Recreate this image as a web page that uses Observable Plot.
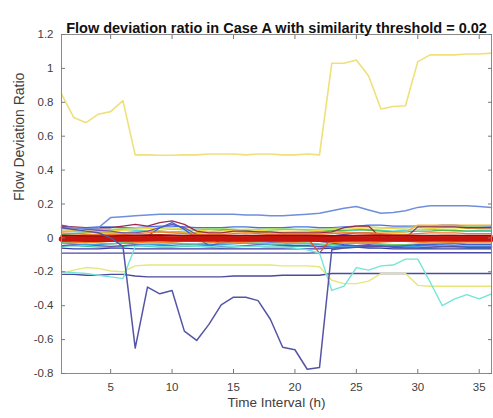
<!DOCTYPE html>
<html>
<head>
<meta charset="utf-8">
<script src="https://cdn.jsdelivr.net/npm/d3@7"></script>
<script src="https://cdn.jsdelivr.net/npm/@observablehq/plot@0.6"></script>
<style>
  html, body { margin: 0; padding: 0; background: #fff; }
  #chart svg { display: block; }
</style>
</head>
<body>
<div id="chart"></div>
<script>
const title = "Flow deviation ratio in Case A with similarity threshold = 0.02";
const xLabel = "Time Interval (h)";
const yLabel = "Flow Deviation Ratio";
const hours = [1,2,3,4,5,6,7,8,9,10,11,12,13,14,15,16,17,18,19,20,21,22,23,24,25,26,27,28,29,30,31,32,33,34,35,36];
const xTicks = [5,10,15,20,25,30,35];
const yTicks = [-0.8,-0.6,-0.4,-0.2,0,0.2,0.4,0.6,0.8,1,1.2];

// bundle series (near zero)
const bOrange1 = [0.03,0.025,0.02,0.02,0.02,0.02,0.025,0.03,0.035,0.03,0.025,0.02,0.02,0.02,0.025,0.03,0.025,0.02,0.02,0.02,0.02,0.02,0.025,0.03,0.03,0.03,0.025,0.02,0.02,0.025,0.03,0.03,0.03,0.025,0.025,0.025];
const bYellow1 = [0.05,0.045,0.04,0.04,0.04,0.045,0.05,0.055,0.06,0.06,0.055,0.045,0.04,0.04,0.045,0.05,0.045,0.04,0.04,0.04,0.04,0.045,0.05,0.05,0.055,0.06,0.06,0.055,0.05,0.05,0.055,0.06,0.06,0.055,0.055,0.05];
const bGreen = [0.02,0.025,0.03,0.035,0.03,0.03,0.035,0.04,0.04,0.035,0.03,0.03,0.035,0.045,0.05,0.045,0.035,0.03,0.03,0.035,0.035,0.04,0.045,0.045,0.05,0.045,0.04,0.035,0.035,0.04,0.04,0.045,0.045,0.04,0.04,0.04];
const bCyan = [0.04,0.035,0.035,0.04,0.045,0.05,0.045,0.04,0.035,0.035,0.04,0.045,0.05,0.05,0.045,0.04,0.04,0.045,0.05,0.05,0.045,0.04,0.035,0.04,0.045,0.05,0.045,0.04,0.045,0.05,0.05,0.045,0.04,0.04,0.045,0.045];
const bLightGreen = [0.06,0.055,0.05,0.05,0.05,0.055,0.06,0.06,0.055,0.05,0.05,0.05,0.055,0.055,0.05,0.05,0.05,0.055,0.055,0.05,0.05,0.05,0.055,0.06,0.065,0.065,0.06,0.06,0.06,0.065,0.07,0.07,0.065,0.065,0.065,0.06];
const bBlue2 = [0.065,0.06,0.06,0.065,0.065,0.06,0.06,0.065,0.07,0.07,0.065,0.06,0.06,0.06,0.065,0.065,0.06,0.06,0.06,0.065,0.065,0.06,0.06,0.065,0.07,0.075,0.075,0.07,0.07,0.07,0.07,0.075,0.075,0.07,0.07,0.07];
const bAmber = [0.04,0.04,0.035,0.03,0.03,0.03,0.035,0.04,0.04,0.035,0.03,0.03,0.03,0.03,0.035,0.035,0.03,0.03,0.03,0.03,0.03,0.03,0.03,0.03,0.03,0.03,0.03,0.03,0.035,0.075,0.075,0.075,0.075,0.075,0.075,0.075];
const bMaroon = [0.07,0.065,0.06,0.06,0.06,0.07,0.08,0.07,0.09,0.1,0.08,0.04,0.03,0.03,0.04,0.04,0.035,0.035,0.03,0.03,0.03,0.03,0.035,0.06,0.07,0.07,0.0,0.0,0.0,0.065,0.065,0.065,0.065,0.06,0.06,0.06];
const bPurple = [0.075,0.06,0.05,0.045,0.04,0.03,0.03,0.04,0.06,0.08,0.06,0.02,0.0,-0.03,-0.02,0.0,0.01,0.01,0.01,0.01,0.01,0.01,0.01,0.02,0.03,0.03,0.02,0.0,-0.01,-0.01,0.0,0.0,0.0,0.0,0.0,0.0];
const bBlue = [0.0,-0.005,-0.01,-0.01,-0.015,-0.01,0.0,0.01,0.06,0.09,0.05,0.0,-0.045,-0.03,-0.02,-0.02,-0.02,-0.025,-0.025,-0.02,-0.02,-0.02,-0.03,-0.04,-0.045,-0.045,-0.05,-0.05,-0.045,-0.04,-0.04,-0.035,-0.035,-0.04,-0.04,-0.04];
const bSky = [-0.03,-0.035,-0.04,-0.04,-0.035,-0.03,-0.035,-0.04,-0.04,-0.035,-0.035,-0.04,-0.04,-0.04,-0.035,-0.03,-0.035,-0.04,-0.04,-0.035,-0.035,-0.04,-0.05,-0.055,-0.05,-0.045,-0.04,-0.045,-0.05,-0.05,-0.045,-0.04,-0.045,-0.05,-0.05,-0.05];
const bGreen2 = [-0.03,-0.028,-0.025,-0.03,-0.035,-0.03,-0.025,-0.02,-0.025,-0.03,-0.035,-0.035,-0.03,-0.025,-0.025,-0.03,-0.03,-0.035,-0.035,-0.03,-0.03,-0.035,-0.04,-0.035,-0.03,-0.03,-0.035,-0.04,-0.04,-0.035,-0.035,-0.03,-0.03,-0.035,-0.035,-0.035];
const bPurple2 = [-0.045,-0.04,-0.04,-0.045,-0.05,-0.045,-0.04,-0.04,-0.045,-0.045,-0.04,-0.04,-0.045,-0.05,-0.05,-0.045,-0.04,-0.04,-0.045,-0.045,-0.045,-0.05,-0.05,-0.045,-0.045,-0.04,-0.045,-0.05,-0.05,-0.045,-0.045,-0.05,-0.05,-0.05,-0.05,-0.05];
const bTeal = [-0.05,-0.045,-0.05,-0.055,-0.055,-0.05,-0.045,-0.05,-0.055,-0.055,-0.05,-0.05,-0.055,-0.06,-0.055,-0.05,-0.05,-0.055,-0.055,-0.05,-0.05,-0.055,-0.06,-0.06,-0.055,-0.055,-0.05,-0.05,-0.055,-0.06,-0.06,-0.055,-0.055,-0.06,-0.06,-0.06];
const bYellow2 = [-0.012,-0.015,-0.018,-0.015,-0.012,-0.01,-0.012,-0.015,-0.018,-0.018,-0.015,-0.012,-0.012,-0.015,-0.018,-0.018,-0.015,-0.012,-0.012,-0.015,-0.015,-0.018,-0.02,-0.02,-0.018,-0.015,-0.015,-0.018,-0.02,-0.02,-0.018,-0.015,-0.015,-0.018,-0.018,-0.018];
const bOrange2 = [-0.02,-0.025,-0.03,-0.025,-0.02,-0.02,-0.025,-0.03,-0.03,-0.025,-0.02,-0.02,-0.025,-0.03,-0.03,-0.025,-0.02,-0.02,-0.025,-0.025,-0.02,-0.02,-0.025,-0.03,-0.03,-0.03,-0.025,-0.02,-0.02,-0.025,-0.03,-0.03,-0.025,-0.025,-0.025,-0.025];
const bNavy2 = [-0.06,-0.065,-0.065,-0.065,-0.06,-0.06,-0.065,-0.065,-0.065,-0.065,-0.065,-0.065,-0.065,-0.065,-0.065,-0.065,-0.065,-0.065,-0.065,-0.065,-0.065,-0.065,-0.06,-0.055,-0.055,-0.06,-0.06,-0.065,-0.065,-0.065,-0.065,-0.065,-0.065,-0.065,-0.065,-0.065];
const bRedV = [0.01,0.012,0.015,0.012,0.01,0.008,0.01,0.015,0.018,0.015,0.012,0.01,0.008,0.01,0.012,0.015,0.012,0.01,0.008,0.005,0.0,-0.09,0.0,0.01,0.015,0.018,0.02,0.015,0.012,0.01,0.012,0.015,0.015,0.012,0.012,0.012];
const bDarkRed = [0.012,0.012,0.01,0.01,0.01,0.012,0.014,0.015,0.015,0.014,0.012,0.012,0.012,0.013,0.013,0.013,0.012,0.012,0.012,0.012,0.012,0.011,0.011,0.012,0.013,0.013,0.013,0.012,0.012,0.012,0.012,0.013,0.013,0.013,0.013,0.013];
const bRedThick = [-0.006,-0.007,-0.008,-0.008,-0.008,-0.007,-0.006,-0.005,-0.005,-0.006,-0.007,-0.007,-0.007,-0.006,-0.006,-0.006,-0.007,-0.007,-0.007,-0.007,-0.007,-0.008,-0.008,-0.007,-0.006,-0.006,-0.006,-0.007,-0.007,-0.007,-0.007,-0.006,-0.006,-0.006,-0.006,-0.006];

// outlier series
const yellowTop = [0.85,0.71,0.68,0.73,0.745,0.81,0.49,0.49,0.488,0.488,0.49,0.49,0.495,0.495,0.495,0.49,0.495,0.495,0.49,0.49,0.495,0.49,1.03,1.03,1.05,0.955,0.76,0.775,0.78,1.04,1.08,1.08,1.08,1.085,1.085,1.09];
const blueUpper = [0.06,0.06,0.055,0.06,0.12,0.125,0.13,0.135,0.14,0.14,0.14,0.14,0.14,0.14,0.14,0.135,0.135,0.13,0.13,0.135,0.14,0.145,0.16,0.175,0.185,0.165,0.145,0.15,0.16,0.18,0.19,0.19,0.19,0.19,0.185,0.18];
const navyMid = [-0.09,-0.09,-0.09,-0.09,-0.09,-0.09,-0.09,-0.09,-0.09,-0.09,-0.09,-0.09,-0.09,-0.09,-0.09,-0.09,-0.09,-0.09,-0.09,-0.09,-0.09,-0.088,-0.088,-0.088,-0.088,-0.088,-0.088,-0.088,-0.088,-0.088,-0.088,-0.088,-0.088,-0.088,-0.088,-0.088];
const navyLow = [-0.215,-0.215,-0.22,-0.22,-0.215,-0.215,-0.225,-0.23,-0.23,-0.23,-0.23,-0.23,-0.23,-0.23,-0.225,-0.225,-0.225,-0.225,-0.22,-0.22,-0.22,-0.22,-0.21,-0.21,-0.21,-0.21,-0.21,-0.21,-0.21,-0.21,-0.21,-0.21,-0.21,-0.21,-0.21,-0.21];
const yellowLow = [-0.21,-0.19,-0.175,-0.18,-0.195,-0.2,-0.165,-0.16,-0.16,-0.16,-0.16,-0.16,-0.16,-0.16,-0.16,-0.16,-0.16,-0.16,-0.165,-0.165,-0.165,-0.17,-0.25,-0.27,-0.27,-0.255,-0.21,-0.21,-0.21,-0.28,-0.285,-0.285,-0.285,-0.285,-0.285,-0.285];
const cyanLow = [-0.2,-0.205,-0.21,-0.22,-0.23,-0.24,-0.05,-0.045,-0.05,-0.05,-0.045,-0.05,-0.05,-0.055,-0.05,-0.05,-0.05,-0.055,-0.055,-0.06,-0.07,-0.09,-0.31,-0.285,-0.175,-0.19,-0.165,-0.16,-0.125,-0.125,-0.26,-0.4,-0.36,-0.335,-0.36,-0.33];
const dipLine = [0.06,0.05,0.04,0.03,0.0,-0.05,-0.65,-0.29,-0.33,-0.31,-0.55,-0.605,-0.51,-0.395,-0.35,-0.35,-0.37,-0.48,-0.645,-0.66,-0.775,-0.765,-0.07,-0.06,-0.055,-0.05,-0.05,-0.055,-0.06,-0.06,-0.055,-0.05,-0.05,-0.055,-0.055,-0.055];

const seriesList = [
  {name: "bTeal", values: bTeal, color: "#3fc4a6", w: 1.3},
  {name: "bNavy2", values: bNavy2, color: "#3a3aa8", w: 1.3},
  {name: "bPurple2", values: bPurple2, color: "#6a4aa8", w: 1.3},
  {name: "bSky", values: bSky, color: "#3f9fe6", w: 1.3},
  {name: "bGreen2", values: bGreen2, color: "#6cc86c", w: 1.3},
  {name: "bBlue2", values: bBlue2, color: "#4a70e0", w: 1.3},
  {name: "bLightGreen", values: bLightGreen, color: "#a6dc6a", w: 1.3},
  {name: "bCyan", values: bCyan, color: "#55d6e2", w: 1.3},
  {name: "bGreen", values: bGreen, color: "#4fb84f", w: 1.3},
  {name: "bYellow1", values: bYellow1, color: "#f0dc3c", w: 1.3},
  {name: "bAmber", values: bAmber, color: "#f2b23a", w: 1.3},
  {name: "bMaroon", values: bMaroon, color: "#9a2a52", w: 1.3},
  {name: "bPurple", values: bPurple, color: "#7353b3", w: 1.3},
  {name: "bBlue", values: bBlue, color: "#3a62d6", w: 1.3},
  {name: "bYellow2", values: bYellow2, color: "#f2e650", w: 1.3},
  {name: "bOrange2", values: bOrange2, color: "#f08a2c", w: 1.3},
  {name: "bOrange1", values: bOrange1, color: "#f47a28", w: 1.3},
  {name: "bRedV", values: bRedV, color: "#e2502c", w: 1.3},
  {name: "navyMid", values: navyMid, color: "#4b4ba6", w: 1.4},
  {name: "navyLow", values: navyLow, color: "#4a4aa0", w: 1.4},
  {name: "yellowLow", values: yellowLow, color: "#e6e67a", w: 1.4},
  {name: "cyanLow", values: cyanLow, color: "#72e6d6", w: 1.4},
  {name: "blueUpper", values: blueUpper, color: "#6f8fdc", w: 1.5},
  {name: "yellowTop", values: yellowTop, color: "#efe07a", w: 1.6},
  {name: "bDarkRed", values: bDarkRed, color: "#8c0a0a", w: 2},
  {name: "bRedThick", values: bRedThick, color: "#c8140c", w: 5.5},
  {name: "dipLine", values: dipLine, color: "#5555a6", w: 1.5}
];

const rows = seriesList.flatMap(s => s.values.map((v, i) => ({t: hours[i], v, name: s.name})));
const fmt = d => { const r = Math.round(d * 10) / 10; return r === 0 ? "0" : String(r); };
const font = "'Liberation Sans', Arial, Helvetica, sans-serif";

const chart = Plot.plot({
  width: 493,
  height: 418,
  marginLeft: 61,
  marginRight: 2,
  marginTop: 34,
  marginBottom: 45,
  style: {fontFamily: font, color: "#404040", background: "#fff"},
  x: {domain: [1, 36]},
  y: {domain: [-0.8, 1.2]},
  marks: [
    ...seriesList.map(s => Plot.line(rows.filter(r => r.name === s.name), {
      x: "t", y: "v", stroke: s.color, strokeWidth: s.w, strokeLinejoin: "round"
    })),
    Plot.frame({stroke: "#8a8a8a", strokeWidth: 1}),
    Plot.axisX({anchor: "bottom", ticks: xTicks, tickSize: -4, text: null, stroke: "#7a7a7a", label: null}),
    Plot.axisX({anchor: "top", ticks: xTicks, tickSize: -4, text: null, stroke: "#7a7a7a", label: null}),
    Plot.axisX({anchor: "bottom", ticks: xTicks, tickSize: 0, tickPadding: 9, fontSize: 11.5, label: null}),
    Plot.axisY({anchor: "left", ticks: yTicks, tickSize: -4, text: null, stroke: "#7a7a7a", label: null}),
    Plot.axisY({anchor: "right", ticks: yTicks, tickSize: -4, text: null, stroke: "#7a7a7a", label: null}),
    Plot.axisY({anchor: "left", ticks: yTicks, tickSize: 0, tickPadding: 8, fontSize: 11.5, tickFormat: fmt, label: null}),
    Plot.text([xLabel], {frameAnchor: "bottom", dy: 33, fontSize: 13.5, fill: "#404040"}),
    Plot.text([yLabel], {frameAnchor: "left", dx: -42, dy: -3, rotate: -90, fontSize: 14, fill: "#404040"}),
    Plot.text([title], {frameAnchor: "top", dy: -12, fontWeight: "bold", fontSize: 14.5, fill: "#111"})
  ]
});
document.getElementById("chart").appendChild(chart);
</script>
</body>
</html>
